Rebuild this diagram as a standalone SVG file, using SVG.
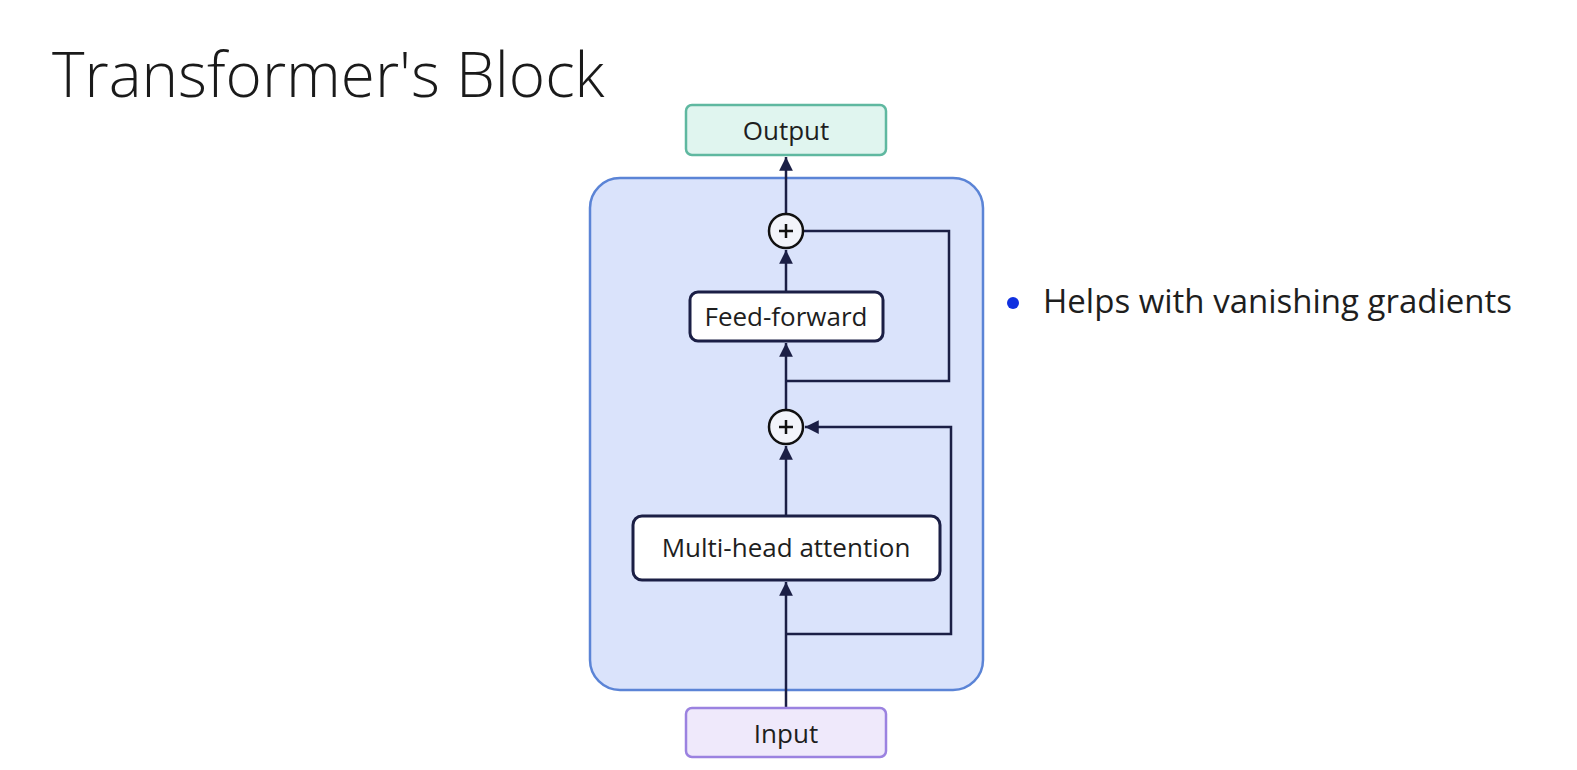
<svg xmlns="http://www.w3.org/2000/svg" width="1577" height="770" viewBox="0 0 1577 770">
<defs>
<style>
.lbl{font-family:"Open Sans","Noto Sans",sans-serif;font-size:26px;fill:#1e1e1e;text-anchor:middle}
.con{fill:none;stroke:#1b1f45;stroke-width:2.5}
.blk{fill:#ffffff;stroke:#1b1f45;stroke-width:3}
.add{fill:#f2f4fa;stroke:#111111;stroke-width:2.5}
</style>
<marker id="ah" viewBox="0 0 10 10" refX="10" refY="5" markerWidth="5.5" markerHeight="5.5" orient="auto" markerUnits="strokeWidth">
<path d="M0,0 L10,5 L0,10 z" fill="#1b1f45"/>
</marker>
</defs>
<rect width="1577" height="770" fill="#ffffff"/>
<text x="52" y="97" font-family="'Open Sans','Noto Sans',sans-serif" font-weight="300" font-size="62" fill="#1a1a1a">Transformer's Block</text>
<g id="container">
<rect x="590" y="178" width="393" height="512" rx="30" fill="#dae3fb" stroke="#5b84d6" stroke-width="2.5"/>
</g>
<g id="connectors">
<line class="con" x1="786" y1="708" x2="786" y2="582" marker-end="url(#ah)"/>
<line class="con" x1="786" y1="516" x2="786" y2="446" marker-end="url(#ah)"/>
<line class="con" x1="786" y1="410" x2="786" y2="343" marker-end="url(#ah)"/>
<line class="con" x1="786" y1="292" x2="786" y2="250" marker-end="url(#ah)"/>
<line class="con" x1="786" y1="214" x2="786" y2="157" marker-end="url(#ah)"/>
<polyline class="con" points="786,381 949,381 949,231 803,231"/>
<polyline class="con" points="786,634 951,634 951,427 805,427" marker-end="url(#ah)"/>
</g>
<g id="output">
<rect x="686" y="105" width="200" height="50" rx="6" fill="#e0f5ef" stroke="#5fb8a0" stroke-width="2.5"/>
<text class="lbl" x="786" y="140">Output</text>
</g>
<g id="add1">
<circle class="add" cx="786" cy="231" r="17"/>
<path d="M779,231 H793 M786,224 V238" stroke="#111" stroke-width="2.5"/>
</g>
<g id="feedforward">
<rect class="blk" x="690" y="292" width="193" height="49" rx="8"/>
<text class="lbl" x="786" y="326">Feed-forward</text>
</g>
<g id="add2">
<circle class="add" cx="786" cy="427" r="17"/>
<path d="M779,427 H793 M786,420 V434" stroke="#111" stroke-width="2.5"/>
</g>
<g id="mha">
<rect class="blk" x="633" y="516" width="307" height="64" rx="9"/>
<text class="lbl" x="786" y="557" font-size="27.5">Multi-head attention</text>
</g>
<g id="input">
<rect x="686" y="708" width="200" height="49" rx="6" fill="#efe9fb" stroke="#9b82e0" stroke-width="2.5"/>
<text class="lbl" x="786" y="743">Input</text>
</g>
<g id="bullet">
<circle cx="1013" cy="303" r="6" fill="#1030e0"/>
<text x="1043" y="313" font-family="'Open Sans','Noto Sans',sans-serif" font-size="33" fill="#1e1e1e">Helps with vanishing gradients</text>
</g>
</svg>
